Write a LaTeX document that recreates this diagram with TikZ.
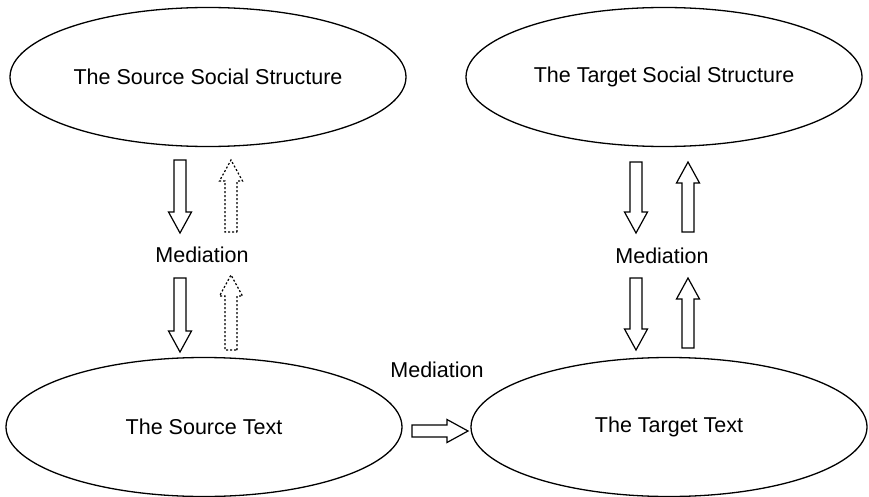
\documentclass[tikz,border=0pt]{standalone}
\usepackage{fontspec}
\setmainfont{Liberation Sans}
\usetikzlibrary{shapes.geometric}
\tikzset{
  social/.style={draw, ellipse, line width=1.3pt, minimum width=396pt,
    minimum height=139pt, inner sep=0pt, font=\fontsize{21.5}{24}\selectfont},
  medlabel/.style={anchor=base, font=\fontsize{21.5}{24}\selectfont},
  pics/blockarrow/.style={code={
    \draw[line width=1.2pt, line join=miter, pic actions]
      (0,6) -- (#1-21,6) -- (#1-21,11.5) -- (#1,0)
      -- (#1-21,-11.5) -- (#1-21,-6) -- (0,-6) -- cycle;}},
  dotline/.style={dash pattern=on 2pt off 2pt},
}
\begin{document}
\begin{tikzpicture}[x=1pt, y=-1pt]
  \useasboundingbox (0,0) rectangle (869,497);
  \node[social] (srcsoc) at (208,77) {The Source Social Structure};
  \node[social] (tgtsoc) at (664,77) {The Target Social Structure};
  \node[social] (srctext) at (204,427) {The Source Text};
  \node[social] (tgttext) at (669,427) {The Target Text};
  \node[medlabel] (medleft) at (202,262) {Mediation};
  \node[medlabel] (medright) at (662,263) {Mediation};
  \node[medlabel] (medmid) at (437,377) {Mediation};
  % source side
  \pic[rotate=-90] at (180,160) {blockarrow=73};
  \pic[rotate=-90] at (180,278) {blockarrow=74};
  \pic[rotate=90, dotline] at (231,232) {blockarrow=72};
  \pic[rotate=90, dotline] at (231,350) {blockarrow=75};
  % target side
  \pic[rotate=-90] at (636,162) {blockarrow=71};
  \pic[rotate=-90] at (636,278) {blockarrow=72};
  \pic[rotate=90] at (688,232) {blockarrow=70};
  \pic[rotate=90] at (688,348) {blockarrow=70};
  % text to text
  \pic at (412,431) {blockarrow=56};
\end{tikzpicture}
\end{document}
